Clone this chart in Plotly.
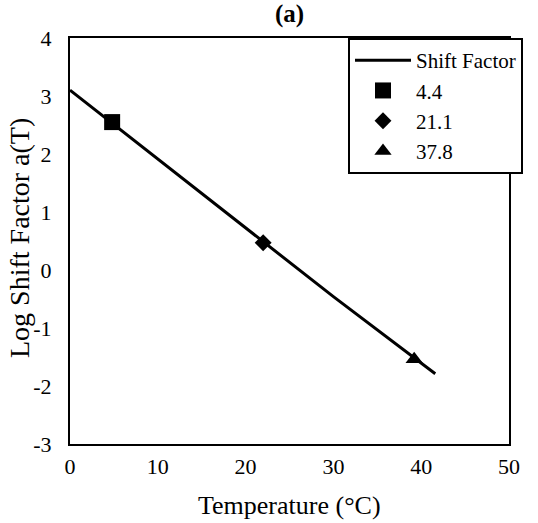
import plotly.graph_objects as go

# Shift factor curve
curve_temp = [0, 10, 20, 30, 41.6]
curve_log_at = [3.10, 1.91, 0.72, -0.46, -1.79]

point_labels = ["4.4", "21.1", "37.8"]
point_temp = [4.8, 22.0, 39.2]
point_log_at = [2.55, 0.47, -1.54]
point_symbols = ["square", "diamond", "triangle-up"]
point_sizes = [16, 13, 15]

x_ticks = [0, 10, 20, 30, 40, 50]
y_ticks = [-3, -2, -1, 0, 1, 2, 3, 4]
y_tick_text = ["-3", "-2", "-1", "0", "1", "2", "3", "4"]

FONT = "Liberation Serif"

fig = go.Figure()
fig.add_trace(go.Scatter(x=curve_temp, y=curve_log_at, mode="lines",
                         line=dict(color="black", width=3), name="Shift Factor"))
for lab, xt, yv, sym, sz in zip(point_labels, point_temp, point_log_at, point_symbols, point_sizes):
    fig.add_trace(go.Scatter(x=[xt], y=[yv], mode="markers", name=lab,
                             marker=dict(symbol=sym, size=sz, color="black")))

W, H = 538, 523
L, R, T, B = 70, 29, 38, 79
pw = W - L - R
ph = H - T - B

fig.update_layout(
    width=W, height=H,
    margin=dict(l=L, r=R, t=T, b=B, pad=0),
    paper_bgcolor="white", plot_bgcolor="white",
    font=dict(family=FONT, color="black", size=22),
    showlegend=True,
    legend=dict(x=(523 - L) / pw, xanchor="right", y=1, yanchor="top",
                xref="paper", yref="paper",
                bordercolor="black", borderwidth=2, bgcolor="white",
                font=dict(size=21, family=FONT, color="black"), tracegroupgap=0,
                itemwidth=56),
    xaxis=dict(range=[0, 50], tickvals=x_ticks, showgrid=False, zeroline=False,
               showline=True, linecolor="black", linewidth=2, mirror=True,
               ticks="", ticklabelstandoff=2,
               tickfont=dict(size=22, family=FONT, color="black")),
    yaxis=dict(range=[-3, 4], tickvals=y_ticks, ticktext=y_tick_text,
               showgrid=False, zeroline=False,
               showline=True, linecolor="black", linewidth=2, mirror=True,
               ticks="", ticklabelstandoff=12,
               tickfont=dict(size=22, family=FONT, color="black")),
    annotations=[
        dict(text="<b>(a)</b>", x=0.5, y=(H - 14 - B) / ph, xref="paper", yref="paper",
             xanchor="center", yanchor="middle", showarrow=False,
             font=dict(size=25, family=FONT, color="black")),
        dict(text="Temperature (°C)", x=0.5, y=(H - 505 - B) / ph, xref="paper", yref="paper",
             xanchor="center", yanchor="middle", showarrow=False,
             font=dict(size=26, family=FONT, color="black")),
        dict(text="Log Shift Factor a(T)", x=(20 - L) / pw, y=(H - B - 238) / ph,
             xref="paper", yref="paper",
             xanchor="center", yanchor="middle", showarrow=False, textangle=-90,
             font=dict(size=28, family=FONT, color="black")),
    ],
)

fig.write_html("out.html")
